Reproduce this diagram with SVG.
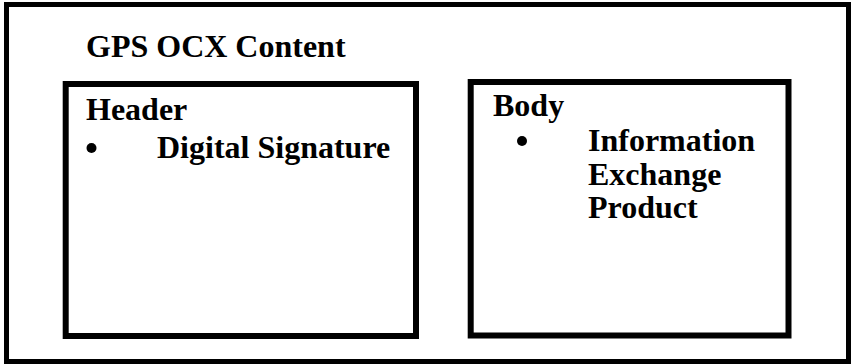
<svg xmlns="http://www.w3.org/2000/svg" width="852" height="364" viewBox="0 0 852 364">
  <style>
    .frame { fill: #ffffff; stroke: #000000; }
    .t { font-family: "Liberation Serif", "Times New Roman", serif; font-weight: bold; font-size: 32px; fill: #000000; }
    .dot { fill: #000000; }
  </style>
  <rect width="852" height="364" fill="#ffffff"/>

  <!-- outer container -->
  <g id="content">
    <rect class="frame" x="6.5" y="4.5" width="842" height="357" stroke-width="5"/>
    <text class="t" x="86" y="57">GPS OCX Content</text>
  </g>

  <!-- header block -->
  <g id="header">
    <rect class="frame" x="65.7" y="84" width="350.3" height="252" stroke-width="6"/>
    <text class="t" x="86" y="120">Header</text>
    <circle class="dot" cx="91.5" cy="148" r="5"/>
    <text class="t" x="157" y="158">Digital Signature</text>
  </g>

  <!-- body block -->
  <g id="body">
    <rect class="frame" x="470.7" y="82" width="317.8" height="253.5" stroke-width="6"/>
    <text class="t" x="493" y="116">Body</text>
    <circle class="dot" cx="522" cy="141" r="5"/>
    <text class="t" x="588" y="151">Information</text>
    <text class="t" x="588" y="184.5">Exchange</text>
    <text class="t" x="588" y="218">Product</text>
  </g>

  <g id="connectors"/>
</svg>
